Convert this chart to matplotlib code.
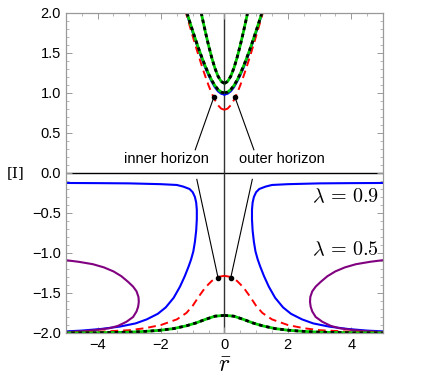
import numpy as np
import matplotlib
matplotlib.use("Agg")
import matplotlib.pyplot as plt
from matplotlib.ticker import MultipleLocator

plt.rcParams['mathtext.fontset'] = 'cm'
plt.rcParams['font.family'] = ['Liberation Sans', 'DejaVu Sans']

# ---- data (right half r >= 0, curves are symmetric in r) ----
# upper branch
r_up_in = [0.0, 0.1, 0.2, 0.3, 0.4, 0.5, 0.6, 0.7, 0.8]
green_up_in = [1.12, 1.143, 1.208, 1.311, 1.442, 1.595, 1.763, 1.944, 2.133]

r_up = [0.0, 0.1, 0.2, 0.3, 0.4, 0.5, 0.6, 0.7, 0.8, 0.9, 1.0, 1.1, 1.2, 1.3]
green_up_out = [1.0, 1.011, 1.042, 1.092, 1.159, 1.24, 1.332, 1.433, 1.541, 1.656, 1.775, 1.898, 2.024, 2.153]
blue_up = [0.98, 0.99, 1.02, 1.07, 1.14, 1.22, 1.31, 1.41, 1.52, 1.635, 1.755, 1.88, 2.005, 2.135]
red_up = [0.79, 0.804, 0.846, 0.912, 0.996, 1.095, 1.205, 1.323, 1.448, 1.577, 1.71, 1.846, 1.984, 2.124]

# lower branch
r_red_lo = [0.0, 0.2, 0.4, 0.6, 0.8, 1.0, 1.2, 1.5, 2.0, 2.5, 3.0, 4.0, 5.0]
red_lo = [-1.285, -1.30, -1.35, -1.43, -1.54, -1.66, -1.75, -1.83, -1.90, -1.94, -1.965, -1.985, -1.995]

r_green_lo = [0.0, 0.3, 0.6, 0.9, 1.2, 1.6, 2.0, 2.5, 3.0, 4.0, 5.0]
green_lo = [-1.78, -1.79, -1.83, -1.875, -1.91, -1.945, -1.965, -1.98, -1.99, -1.997, -2.0]

# lambda = 0.9 (blue)
r_blue_lo = [5.0, 4.0, 3.0, 2.0, 1.5, 1.3, 1.1, 1.0, 0.93, 0.89, 0.87, 0.87, 0.89, 0.93,
             0.98, 1.05, 1.13, 1.25, 1.4, 1.6, 1.85, 2.1, 2.45, 2.8, 3.3, 3.9, 4.5, 5.0]
blue_lo = [-0.125, -0.127, -0.13, -0.14, -0.15, -0.17, -0.20, -0.24, -0.30, -0.37, -0.46, -0.58,
           -0.72, -0.86, -0.98, -1.08, -1.17, -1.29, -1.42, -1.56, -1.68, -1.76, -1.83, -1.88,
           -1.92, -1.95, -1.97, -1.98]

# lambda = 0.5 (purple)
r_purple = [5.0, 4.6, 4.15, 3.8, 3.5, 3.25, 3.04, 2.88, 2.77, 2.71, 2.70, 2.72, 2.77, 2.88,
            3.09, 3.35, 3.62, 4.0, 4.36, 5.0]
purple = [-1.09, -1.11, -1.14, -1.18, -1.23, -1.29, -1.36, -1.42, -1.48, -1.55, -1.61, -1.67,
          -1.73, -1.80, -1.86, -1.91, -1.94, -1.96, -1.975, -1.99]


def both(r):
    r = np.asarray(r)
    return r, -r


fig = plt.figure(figsize=(4.25, 3.81), dpi=100)
ax = fig.add_axes([0.155, 0.126, 0.746, 0.840])

ax.axhline(0, color='black', lw=1.0, zorder=1)
ax.axvline(0, color='#333333', lw=1.0, zorder=1)

green_kw = dict(color='#00cc00', lw=2.0, solid_capstyle='butt')
dot_kw = dict(color='black', lw=2.0, dashes=(1.3, 1.3))
red_kw = dict(color='red', lw=1.4, dashes=(4, 2.5))
blue_kw = dict(color='blue', lw=1.5)
purple_kw = dict(color='purple', lw=1.5)

for r in both(r_up):
    ax.plot(r, blue_up, **blue_kw)
    ax.plot(r, red_up, **red_kw)
    ax.plot(r, green_up_out, **green_kw)
    ax.plot(r, green_up_out, **dot_kw)
for r in both(r_up_in):
    ax.plot(r, green_up_in, **green_kw)
    ax.plot(r, green_up_in, **dot_kw)
for r in both(r_blue_lo):
    ax.plot(r, blue_lo, **blue_kw)
for r in both(r_purple):
    ax.plot(r, purple, **purple_kw)
for r in both(r_red_lo):
    ax.plot(r, red_lo, **red_kw)
for r in both(r_green_lo):
    ax.plot(r, green_lo, **green_kw)
    ax.plot(r, green_lo, **dot_kw)

# horizon annotations
ax.text(-1.82, 0.18, 'inner horizon', ha='center', va='center', fontsize=10.5)
ax.text(1.80, 0.18, 'outer horizon', ha='center', va='center', fontsize=10.5)
links = [((-0.92, 0.29), (-0.33, 0.95)), ((-0.87, -0.08), (-0.2, -1.31)),
         ((0.93, 0.29), (0.33, 0.95)), ((0.88, -0.08), (0.2, -1.31))]
for (x0, y0), (x1, y1) in links:
    ax.plot([x0, x1], [y0, y1], color='black', lw=0.8)
    ax.plot([x1], [y1], 'o', color='black', ms=3)

ax.text(4.87, -0.3, r'$\lambda\, =\, 0.9$', ha='right', va='center', fontsize=14.5)
ax.text(4.87, -0.96, r'$\lambda\, =\, 0.5$', ha='right', va='center', fontsize=14.5)

ax.set_xlim(-5, 5)
ax.set_ylim(-2, 2)
ax.xaxis.set_major_locator(MultipleLocator(2))
ax.xaxis.set_minor_locator(MultipleLocator(0.5))
ax.yaxis.set_major_locator(MultipleLocator(0.5))
ax.yaxis.set_minor_locator(MultipleLocator(0.1))
ax.tick_params(which='both', direction='in', top=True, right=True, color='#999999', labelsize=10.5)
ax.tick_params(which='major', length=4, width=0.7)
ax.tick_params(which='minor', length=2, width=0.5)
for s in ax.spines.values():
    s.set_color('#999999')
    s.set_linewidth(0.9)

ax.set_xlabel(r'$\bar{r}$', fontsize=17, labelpad=2)
fig.text(16 / 425, 1 - 173 / 381, '[I]', ha='center', va='center', family='DejaVu Serif', fontsize=11)

fig.savefig('out.png', dpi=100)
